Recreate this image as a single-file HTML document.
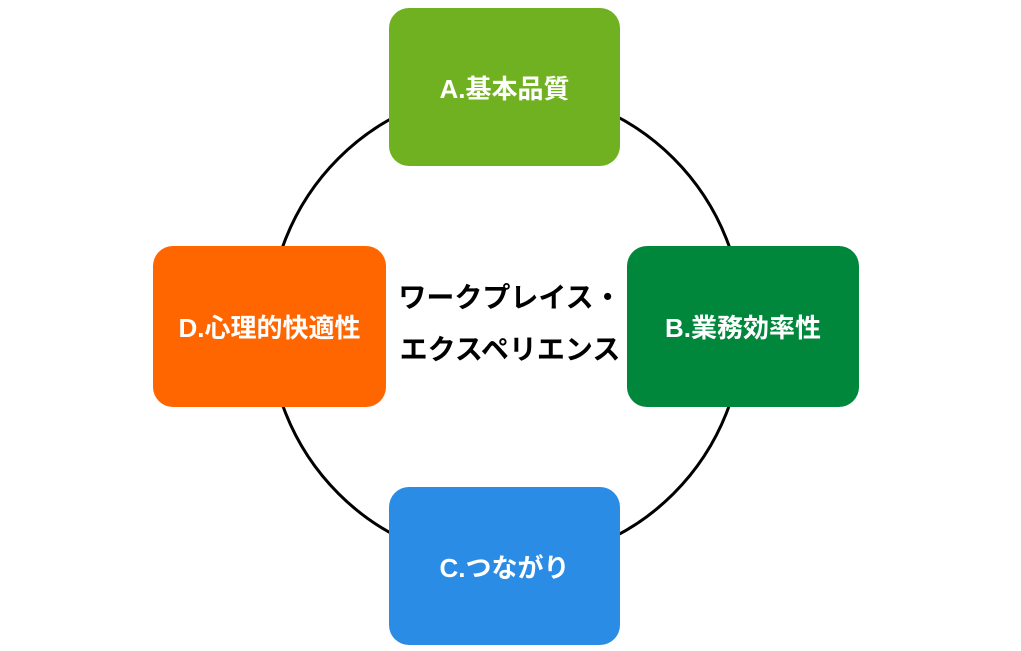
<!DOCTYPE html>
<html><head><meta charset="utf-8"><style>
html,body{margin:0;padding:0;background:#fff;width:1021px;height:651px;overflow:hidden;position:relative;font-family:"Liberation Sans","Noto Sans CJK JP",sans-serif;}
.b{position:absolute;border-radius:20px;color:#fff;font-weight:bold;font-size:26px;display:flex;align-items:center;justify-content:center;}
.c{position:absolute;left:370px;top:272px;width:280px;text-align:center;font-weight:bold;font-size:28px;line-height:52px;color:#000;}
</style></head><body>
<svg width="1021" height="651" style="position:absolute;left:0;top:0">
<circle cx="506" cy="326" r="237" fill="none" stroke="#000" stroke-width="3"/>
</svg>
<div class="b" style="left:389px;top:8px;width:231px;height:158px;background:#70B122">A.基本品質</div>
<div class="b" style="left:627px;top:246px;width:232px;height:161px;background:#00873C">B.業務効率性</div>
<div class="b" style="left:389px;top:487px;width:231px;height:158px;background:#2B8CE6">C.つながり</div>
<div class="b" style="left:153px;top:246px;width:233px;height:161px;background:#FF6600">D.心理的快適性</div>
<div class="c">ワークプレイス・<br>エクスペリエンス</div>
</body></html>
